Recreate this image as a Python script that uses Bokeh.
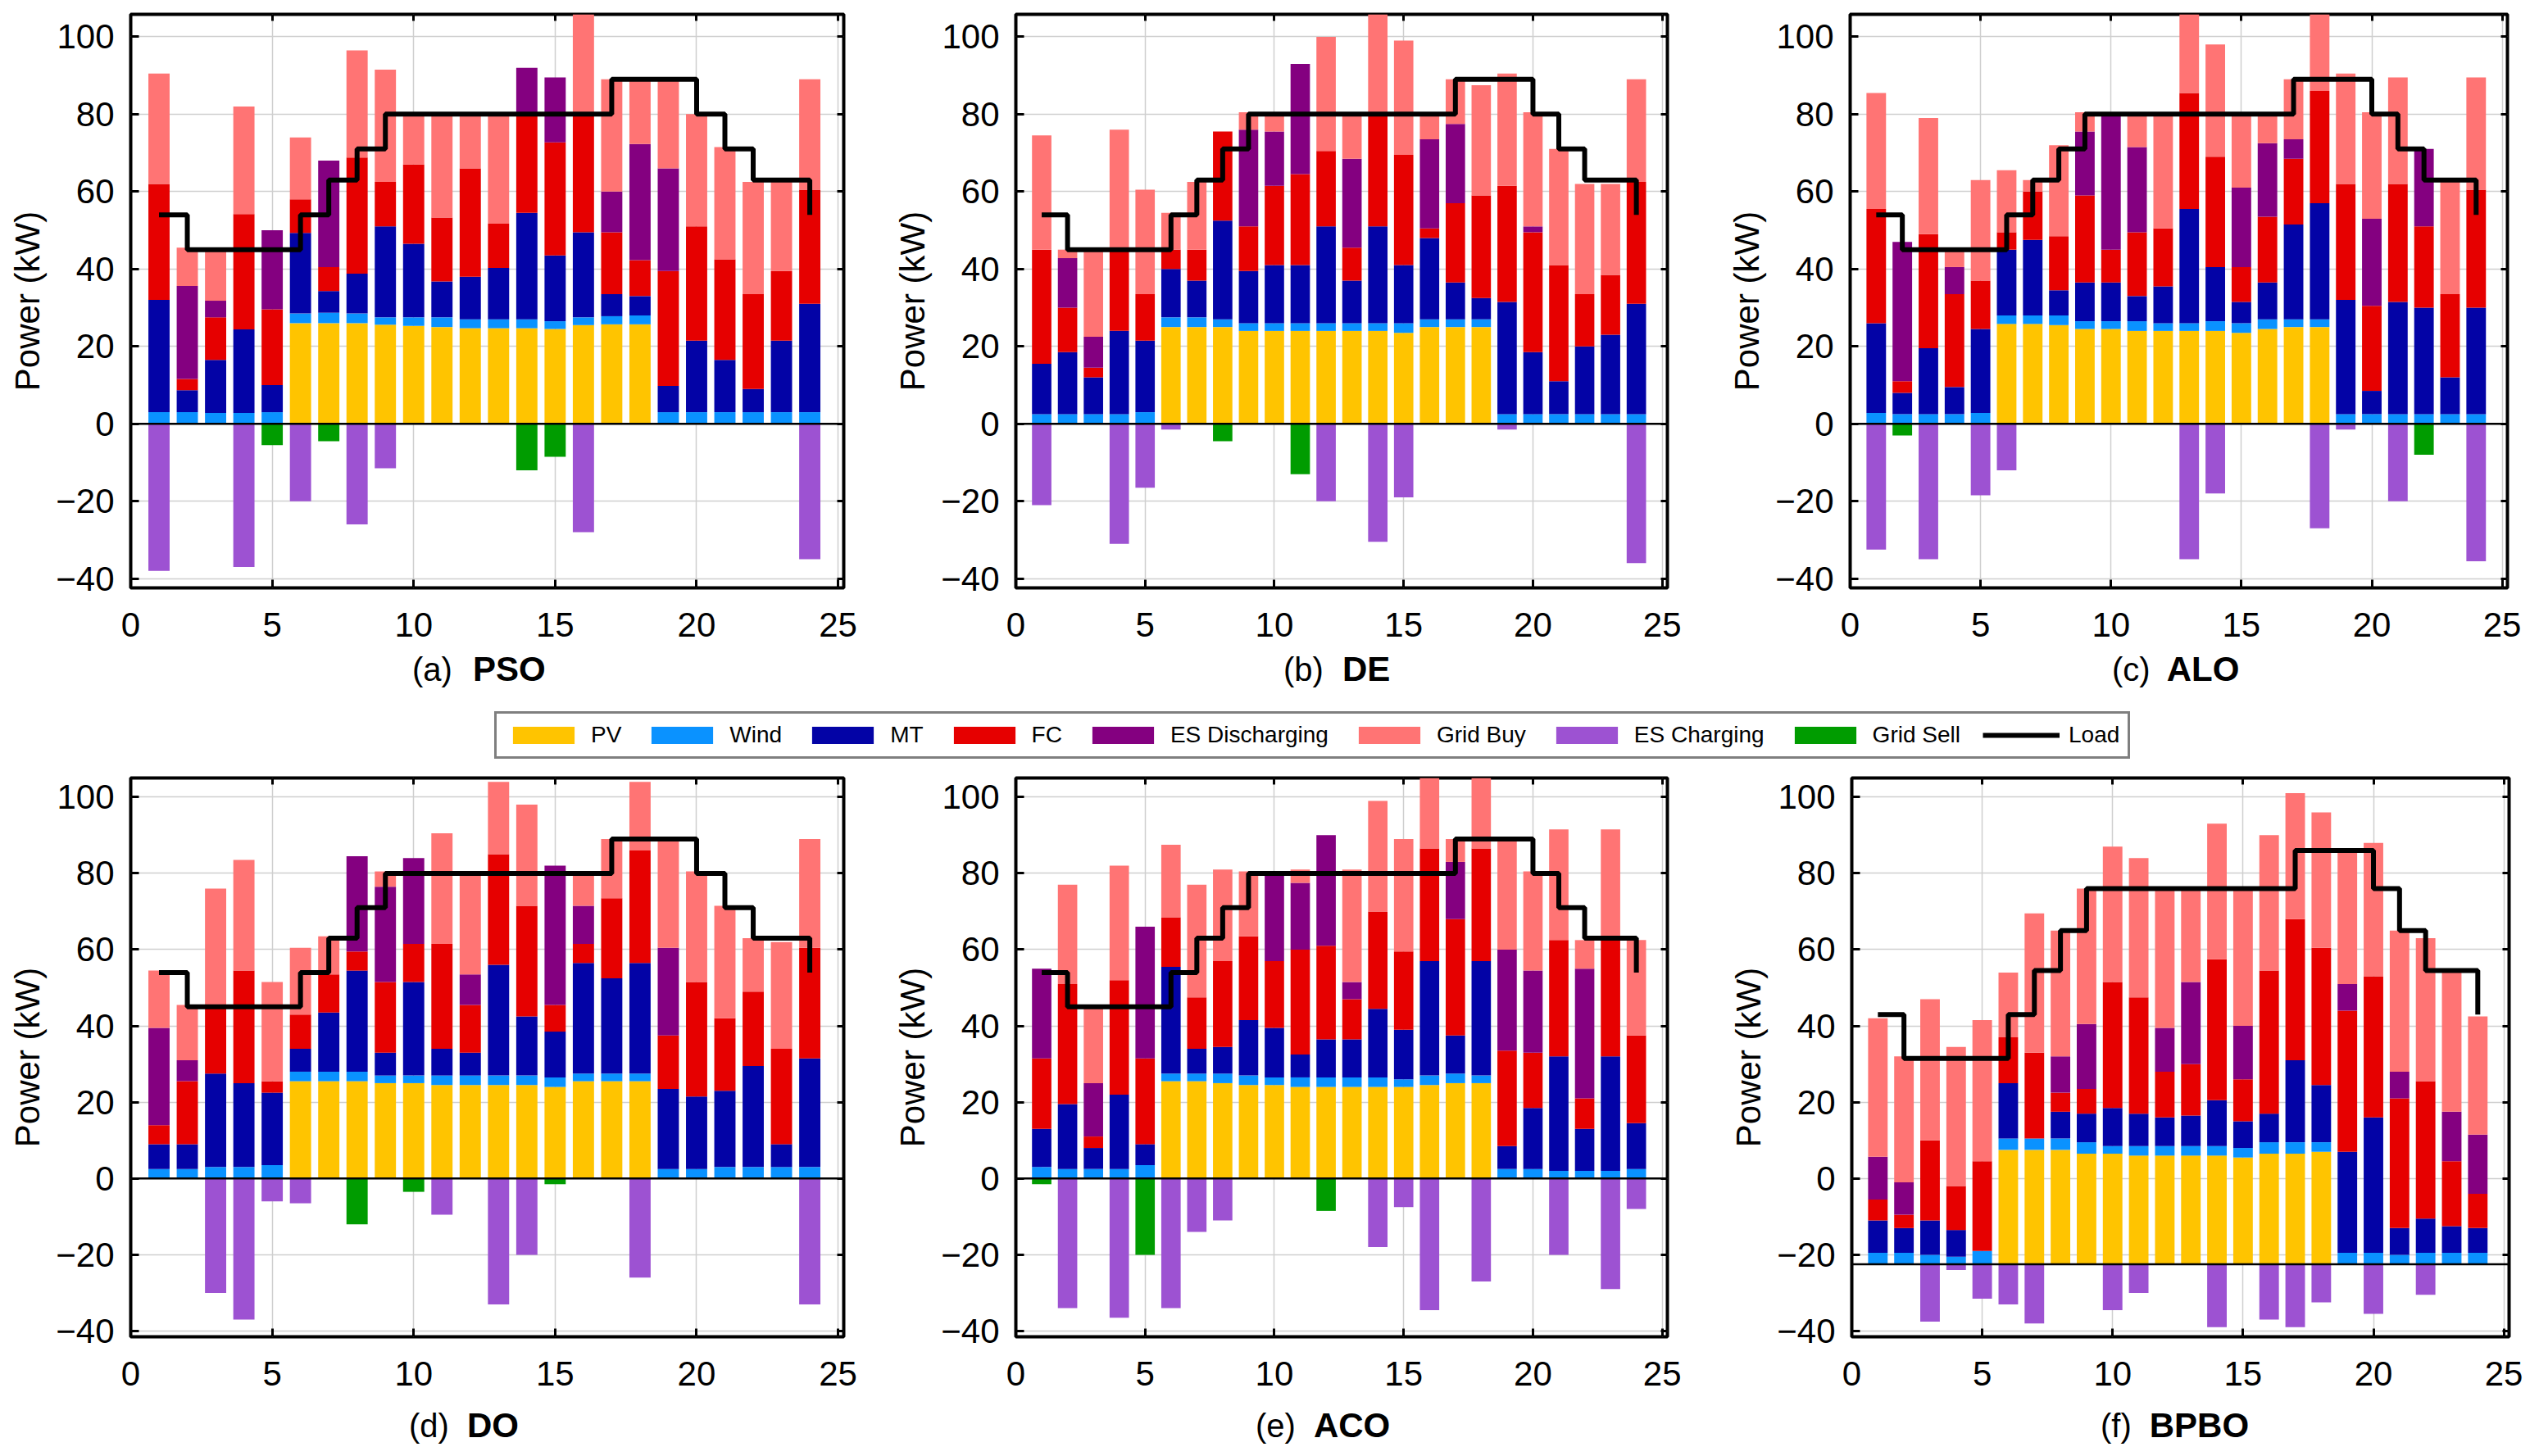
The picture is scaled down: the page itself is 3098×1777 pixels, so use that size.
import numpy as np
from bokeh.plotting import figure
from bokeh.models import (Range1d, FixedTicker, LinearAxis, Span, Legend,
                          LegendItem, CustomJSTickFormatter, Div)
from bokeh.layouts import row, column
from bokeh.embed import file_html
from bokeh.resources import INLINE

HOURS = list(range(1, 25))
X_TICKS = [0, 5, 10, 15, 20, 25]
Y_TICKS = [-40, -20, 0, 20, 40, 60, 80, 100]
SERIES = ["PV", "Wind", "MT", "FC", "ES Discharging", "Grid Buy", "ES Charging", "Grid Sell"]
COLORS = ["#FFC400", "#0A92FF", "#0303A6", "#E60000", "#840080", "#FF7474", "#9D52D2", "#009C00"]

LOAD = [54, 45, 45, 45, 45, 54, 63, 71, 80, 80, 80, 80, 80, 80, 80, 80, 89, 89, 89, 80, 71, 63, 63, 54]
LOAD_BPBO = [43, 31.5, 31.5, 31.5, 31.5, 43, 54.5, 65, 76, 76, 76, 76, 76, 76, 76, 76, 86, 86, 86, 76, 65, 54.5, 54.5, 43]

# (a) PSO
PSO_PV = [0, 0, 0, 0, 0, 26, 26, 26, 25.6, 25.3, 25, 24.7, 24.7, 24.7, 24.5, 25.5, 25.7, 25.7, 0, 0, 0, 0, 0, 0]
PSO_WIND = [3, 3, 2.8, 2.8, 3, 2.5, 2.7, 2.5, 1.9, 2.2, 2.5, 2.3, 2.3, 2.3, 2, 2, 2.1, 2.3, 3, 3, 3, 3, 3, 3]
PSO_MT = [29, 5.7, 13.7, 21.6, 7, 20.8, 5.6, 10.3, 23.5, 19, 9.3, 11, 13.3, 27.5, 17, 22, 5.7, 5, 6.8, 18.5, 13.5, 6, 18.5, 28]
PSO_FC = [30, 2.9, 11, 29.8, 19.6, 8.7, 6.2, 30, 11.5, 20.5, 16.5, 28, 11.4, 25.5, 29.2, 31, 16, 9.3, 29.7, 29.5, 26, 24.5, 18, 29.5]
PSO_ESD = [0, 24, 4.3, 0, 20.4, 0, 27.5, 0, 0, 0, 0, 0, 0, 12, 16.8, 0, 10.5, 30, 26.5, 0, 0, 0, 0, 0]
PSO_GB = [28.5, 9.9, 13.2, 27.8, 0, 16, 0, 27.7, 29, 13, 27.2, 14.5, 28.3, 0, 0, 25.5, 29, 16.7, 23, 29, 29, 29, 23, 28.5]
PSO_ESC = [-38, 0, 0, -37, 0, -20, 0, -26, -11.5, 0, 0, 0, 0, 0, 0, -28, 0, 0, 0, 0, 0, 0, 0, -35]
PSO_GS = [0, 0, 0, 0, -5.5, 0, -4.5, 0, 0, 0, 0, 0, 0, -12, -8.5, 0, 0, 0, 0, 0, 0, 0, 0, 0]

# (b) DE
DE_PV = [0, 0, 0, 0, 0, 25, 25, 25, 24, 24, 24, 24, 24, 24, 23.5, 25, 25, 25, 0, 0, 0, 0, 0, 0]
DE_WIND = [2.5, 2.5, 2.5, 2.5, 3, 2.5, 2.5, 2, 2, 2, 2, 2, 2, 2, 2.5, 2, 2, 2, 2.5, 2.5, 2.5, 2.5, 2.5, 2.5]
DE_MT = [13, 16, 9.5, 21.5, 18.5, 12.5, 9.5, 25.5, 13.5, 15, 15, 25, 11, 25, 15, 21, 9.5, 5.5, 29, 16, 8.5, 17.5, 20.5, 28.5]
DE_FC = [29.5, 11.5, 2.5, 21, 12, 5, 8, 23, 11.5, 20.5, 23.5, 19.5, 8.5, 29.5, 28.5, 2.5, 20.5, 26.5, 30, 31, 30, 13.5, 15.5, 31.5]
DE_ESD = [0, 12.8, 8, 0, 0, 0, 0, 0, 25, 14, 28.5, 0, 23, 0, 0, 23, 20.5, 0, 0, 1.5, 0, 0, 0, 0]
DE_GB = [29.5, 2.2, 22, 31, 27, 9.5, 17.5, 0, 4.5, 5, 0, 29.5, 11.5, 25.5, 29.5, 7, 11.5, 28.5, 29, 29.5, 30, 28.5, 23.5, 26.5]
DE_ESC = [-21, 0, 0, -31, -16.5, -1.5, 0, 0, 0, 0, 0, -20, 0, -30.5, -19, 0, 0, 0, -1.5, 0, 0, 0, 0, -36]
DE_GS = [0, 0, 0, 0, 0, 0, 0, -4.5, 0, 0, -13, 0, 0, 0, 0, 0, 0, 0, 0, 0, 0, 0, 0, 0]

# (c) ALO
ALO_PV = [0, 0, 0, 0, 0, 25.8, 25.8, 25.5, 24.5, 24.5, 24, 24, 24, 24, 23.5, 24.5, 25, 25, 0, 0, 0, 0, 0, 0]
ALO_WIND = [2.8, 2.5, 2.5, 2.5, 2.8, 2.2, 2.2, 2.5, 2, 2, 2.5, 2, 2, 2.5, 2.5, 2.5, 2, 2, 2.5, 2.5, 2.5, 2.5, 2.5, 2.5]
ALO_MT = [23.2, 5.5, 17, 7, 21.7, 17, 19.5, 6.5, 10, 10, 6.5, 9.5, 29.5, 14, 5.5, 9.5, 24.5, 30, 29.5, 6, 29, 27.5, 9.5, 27.5]
ALO_FC = [29.5, 3, 29.5, 24, 12.5, 4.5, 12.5, 14, 22.5, 8.5, 16.5, 15, 30, 28.5, 9, 17, 17, 29, 30, 22, 30.5, 21, 21.5, 30.5]
ALO_ESD = [0, 36, 0, 7, 0, 0, 0, 0, 16.5, 35, 22, 0, 0, 0, 20.5, 19, 5, 0, 0, 22.5, 0, 20, 0, 0]
ALO_GB = [30, 0, 30, 4.5, 26, 16, 3, 23.5, 5, 0, 9, 30, 20.5, 29, 19, 8, 15.5, 20, 28.5, 27.5, 27.5, 0, 29, 29]
ALO_ESC = [-32.5, 0, -35, 0, -18.5, -12, 0, 0, 0, 0, 0, 0, -35, -18, 0, 0, 0, -27, -1.5, 0, -20, 0, 0, -35.5]
ALO_GS = [0, -3, 0, 0, 0, 0, 0, 0, 0, 0, 0, 0, 0, 0, 0, 0, 0, 0, 0, 0, 0, -8, 0, 0]

# (d) DO
DO_PV = [0, 0, 0, 0, 0, 25.5, 25.5, 25.5, 25, 25, 24.5, 24.5, 24.5, 24.5, 24, 25.5, 25.5, 25.5, 0, 0, 0, 0, 0, 0]
DO_WIND = [2.5, 2.5, 3, 3, 3.5, 2.5, 2.5, 2.5, 2, 2, 2.5, 2.5, 2.5, 2.5, 2.5, 2, 2, 2, 2.5, 2.5, 3, 3, 3, 3]
DO_MT = [6.5, 6.5, 24.5, 22, 19, 6, 15.5, 26.5, 6, 24.5, 7, 6, 29, 15.5, 12, 29, 25, 29, 21, 19, 20, 26.5, 6, 28.5]
DO_FC = [5, 16.5, 18, 29.5, 3, 9, 10, 5, 18.5, 10, 27.5, 12.5, 29, 29, 7, 5, 21, 29.5, 14, 30, 19, 19.5, 25, 29]
DO_ESD = [25.5, 5.5, 0, 0, 0, 0, 0, 25, 25, 22.5, 0, 8, 0, 0, 36.5, 10, 0, 0, 23, 0, 0, 0, 0, 0]
DO_GB = [15, 14.5, 30.5, 29, 26, 17.5, 10, 0, 4, 0, 29, 27, 19, 26.5, 0, 9, 15.5, 18, 28.5, 29, 29.5, 14, 28, 28.5]
DO_ESC = [0, 0, -30, -37, -6, -6.5, 0, 0, 0, 0, -9.5, 0, -33, -20, 0, 0, 0, -26, 0, 0, 0, 0, 0, -33]
DO_GS = [0, 0, 0, 0, 0, 0, 0, -12, 0, -3.5, 0, 0, 0, 0, -1.5, 0, 0, 0, 0, 0, 0, 0, 0, 0]

# (e) ACO
ACO_PV = [0, 0, 0, 0, 0, 25.5, 25.5, 25, 24.5, 24.5, 24, 24, 24, 24, 24, 24.5, 25, 25, 0, 0, 0, 0, 0, 0]
ACO_WIND = [3, 2.5, 2.5, 2.5, 3.5, 2, 2, 2.5, 2.5, 2, 2.5, 2.5, 2.5, 2.5, 2, 2.5, 2.5, 2, 2.5, 2.5, 2, 2, 2, 2.5]
ACO_MT = [10, 17, 5.5, 19.5, 5.5, 28, 6.5, 7, 14.5, 13, 6, 10, 10, 18, 13, 30, 10, 30, 6, 16, 30, 11, 30, 12]
ACO_FC = [18.5, 31.5, 3, 30, 22.5, 13, 13.5, 22.5, 22, 17.5, 27.5, 24.5, 10.5, 25.5, 20.5, 29.5, 30.5, 29.5, 25, 14.5, 30.5, 8, 30.5, 23]
ACO_ESD = [23.5, 0, 14, 0, 34.5, 0, 0, 0, 0, 22.5, 17.5, 29, 4.5, 0, 0, 0, 15, 0, 26.5, 21.5, 0, 34, 0, 0]
ACO_GB = [0, 26, 20, 30, 0, 19, 29.5, 24, 17, 1, 3.5, 0, 29.5, 29, 29.5, 19.5, 6, 19.5, 29, 26, 29, 7.5, 29, 25]
ACO_ESC = [0, -34, 0, -36.5, 0, -34, -14, -11, 0, 0, 0, 0, 0, -18, -7.5, -34.5, 0, -27, 0, 0, -20, 0, -29, -8]
ACO_GS = [-1.5, 0, 0, 0, -20, 0, 0, 0, 0, 0, 0, -8.5, 0, 0, 0, 0, 0, 0, 0, 0, 0, 0, 0, 0]

# (f) BPBO  (bars stacked on a base value of -22.5)
BPBO_BASE = -22.5
BPBO_PV = [0, 0, 0, 0, 0, 30, 30, 30, 29, 29, 28.5, 28.5, 28.5, 28.5, 28, 29, 29, 29.5, 0, 0, 0, 0, 0, 0]
BPBO_WIND = [3, 3, 2.5, 2, 3.5, 3, 3, 3, 3, 2, 2.5, 2.5, 2.5, 2.5, 2.5, 3, 3, 2.5, 3, 3, 2.5, 3, 3, 3]
BPBO_MT = [8.5, 6.5, 9, 7, 0, 14.5, 0, 7, 7.5, 10, 8.5, 7.5, 8, 12, 7, 7.5, 21.5, 15, 26.5, 35.5, 7, 9, 7, 6.5]
BPBO_FC = [5.5, 3.5, 21, 11.5, 23.5, 12, 22.5, 5, 6.5, 33, 30.5, 12, 13.5, 37, 11, 37.5, 37, 36, 37, 37, 34, 36, 17, 9]
BPBO_ESD = [11.2, 8.5, 0, 0, 0, 0, 0, 9.5, 17, 0, 0, 11.5, 21.5, 0, 14, 0, 0, 0, 7, 0, 7, 0, 13, 15.5]
BPBO_GB = [36.3, 33, 37, 36.5, 37, 17, 36.5, 33, 35.5, 35.5, 36.5, 36.5, 24.5, 35.5, 36, 35.5, 33, 35.5, 35, 35, 37, 37.5, 36.5, 31]
BPBO_ESC = [0, 0, -15, -1.5, -9, -10.5, -15.5, 0, 0, -12, -7.5, 0, 0, -16.5, 0, -14.5, -16.5, -10, 0, -13, 0, -8, 0, 0]
BPBO_GS = [0] * 24

FONT = "Liberation Sans"
minus_fmt = "return tick < 0 ? '\u2212' + Math.abs(tick) : String(tick);"


def make_panel(pos, neg, load, base, width, left, right, top, frame_h, bottom, yr):
    p = figure(width=width, height=top + frame_h + bottom,
               x_range=Range1d(0, 25.2), y_range=Range1d(*yr),
               output_backend="svg", toolbar_location=None,
               min_border_left=left, min_border_right=right,
               min_border_top=top, min_border_bottom=bottom)
    p.background_fill_color = "white"
    p.outline_line_color = "black"
    p.outline_line_width = 4
    hrs = np.array(HOURS, dtype=float)
    bot = np.full(24, base, dtype=float)
    for vals, col in zip(pos, COLORS[:6]):
        v = np.array(vals, dtype=float)
        tp = bot + v
        m = v > 0
        if m.any():
            p.vbar(x=hrs[m], bottom=bot[m], top=tp[m], width=0.75,
                   fill_color=col, line_color=None)
        bot = tp
    bot = np.full(24, base, dtype=float)
    for vals, col in zip(neg, COLORS[6:]):
        v = np.array(vals, dtype=float)
        tp = bot + v
        m = v < 0
        if m.any():
            p.vbar(x=hrs[m], bottom=tp[m], top=bot[m], width=0.75,
                   fill_color=col, line_color=None)
        bot = tp
    p.add_layout(Span(location=base, dimension="width", line_color="black", line_width=2.5))
    p.step(x=HOURS, y=load, mode="after", line_color="black", line_width=6)

    p.xaxis.ticker = FixedTicker(ticks=X_TICKS)
    p.yaxis.ticker = FixedTicker(ticks=Y_TICKS)
    p.yaxis.formatter = CustomJSTickFormatter(code=minus_fmt)
    for ax in (p.xaxis[0], p.yaxis[0]):
        ax.axis_line_color = None
        ax.major_tick_in = 10
        ax.major_tick_out = 0
        ax.major_tick_line_width = 3
        ax.major_tick_line_color = "black"
        ax.minor_tick_line_color = None
        ax.major_label_text_font = FONT
        ax.major_label_text_font_size = "42px"
        ax.major_label_text_color = "black"
    p.xaxis.major_label_standoff = 30
    p.yaxis.major_label_standoff = 20
    p.yaxis.axis_label = "Power (kW)"
    p.yaxis.axis_label_text_font = FONT
    p.yaxis.axis_label_text_font_size = "42px"
    p.yaxis.axis_label_text_font_style = "normal"
    p.yaxis.axis_label_text_color = "black"
    p.yaxis.axis_label_standoff = 8
    for loc, tk in (("above", X_TICKS), ("right", Y_TICKS)):
        ax = LinearAxis(ticker=FixedTicker(ticks=tk),
                        formatter=CustomJSTickFormatter(code="return '';"),
                        axis_line_color=None, major_tick_in=8, major_tick_out=0,
                        major_tick_line_width=3, minor_tick_line_color=None,
                        major_label_standoff=0)
        p.add_layout(ax, loc)
    for g in (p.xgrid[0], p.ygrid[0]):
        g.grid_line_color = "#cfcfcf"
        g.grid_line_width = 1.5
    return p


def caption(tag, name, width, height, indent, gap, lh):
    html = ('<span style="margin-left:%dpx">%s</span>'
            '<span style="margin-left:%dpx;font-weight:bold;font-size:42px">%s</span>'
            % (indent, tag, gap, name))
    return Div(text=html, width=width, height=height,
               styles={"font-family": FONT, "font-size": "40px", "line-height": "%dpx" % lh,
                       "color": "black", "white-space": "nowrap", "margin": "0",
                       "overflow": "visible"})


TOP_YR = (-42.4, 105.8)
BOT_YR = (-41.5, 105.0)
TOP_H = (17, 700, 84)
BOT_H = (17, 682, 84)

pa = make_panel([PSO_PV, PSO_WIND, PSO_MT, PSO_FC, PSO_ESD, PSO_GB], [PSO_ESC, PSO_GS],
                LOAD, 0, 1072, 159, 43, *TOP_H, TOP_YR)
pb = make_panel([DE_PV, DE_WIND, DE_MT, DE_FC, DE_ESD, DE_GB], [DE_ESC, DE_GS],
                LOAD, 0, 1010, 167, 48, *TOP_H, TOP_YR)
pc = make_panel([ALO_PV, ALO_WIND, ALO_MT, ALO_FC, ALO_ESD, ALO_GB], [ALO_ESC, ALO_GS],
                LOAD, 0, 997, 175, 20, *TOP_H, TOP_YR)
pd = make_panel([DO_PV, DO_WIND, DO_MT, DO_FC, DO_ESD, DO_GB], [DO_ESC, DO_GS],
                LOAD, 0, 1072, 159, 43, *BOT_H, BOT_YR)
pe = make_panel([ACO_PV, ACO_WIND, ACO_MT, ACO_FC, ACO_ESD, ACO_GB], [ACO_ESC, ACO_GS],
                LOAD, 0, 1010, 167, 48, *BOT_H, BOT_YR)
pf = make_panel([BPBO_PV, BPBO_WIND, BPBO_MT, BPBO_FC, BPBO_ESD, BPBO_GB], [BPBO_ESC, BPBO_GS],
                LOAD_BPBO, BPBO_BASE, 997, 177, 18, *BOT_H, BOT_YR)

ca = caption("(a)", "PSO", 1072, 51, 503, 25, 32)
cb = caption("(b)", "DE", 1010, 51, 494, 23, 32)
cc = caption("(c)", "ALO", 997, 51, 495, 20, 32)
cd = caption("(d)", "DO", 1072, 46, 499, 22, 50)
ce = caption("(e)", "ACO", 1010, 46, 460, 22, 50)
cf = caption("(f)", "BPBO", 997, 46, 481, 22, 50)

# legend strip
lf = figure(width=3079, height=80, x_range=Range1d(0, 1), y_range=Range1d(0, 1),
            output_backend="svg", toolbar_location=None, min_border=0,
            x_axis_location=None, y_axis_location=None, outline_line_color=None)
for g in lf.grid:
    g.visible = False
items = []
for nm, col in zip(SERIES, COLORS):
    r = lf.vbar(x=[-5], top=[-5], bottom=[-6], width=0.5, fill_color=col, line_color=None)
    items.append(LegendItem(label=nm, renderers=[r]))
rl = lf.line(x=[-5, -4], y=[-5, -5], line_color="black", line_width=6)
items.append(LegendItem(label="Load", renderers=[rl]))
leg = Legend(items=items, orientation="horizontal", location=(603, 6),
             glyph_width=94, glyph_height=26, label_standoff=11, spacing=27,
             padding=10, margin=0, label_height=30,
             label_text_font=FONT, label_text_font_size="28px", label_text_color="black",
             border_line_color="black", border_line_width=3, background_fill_color="white")
lf.add_layout(leg, "center")

layout = column(row(column(pa, ca), column(pb, cb), column(pc, cc)),
                lf,
                row(column(pd, cd), column(pe, ce), column(pf, cf)))
open("out.html", "w").write(file_html(layout, INLINE))
